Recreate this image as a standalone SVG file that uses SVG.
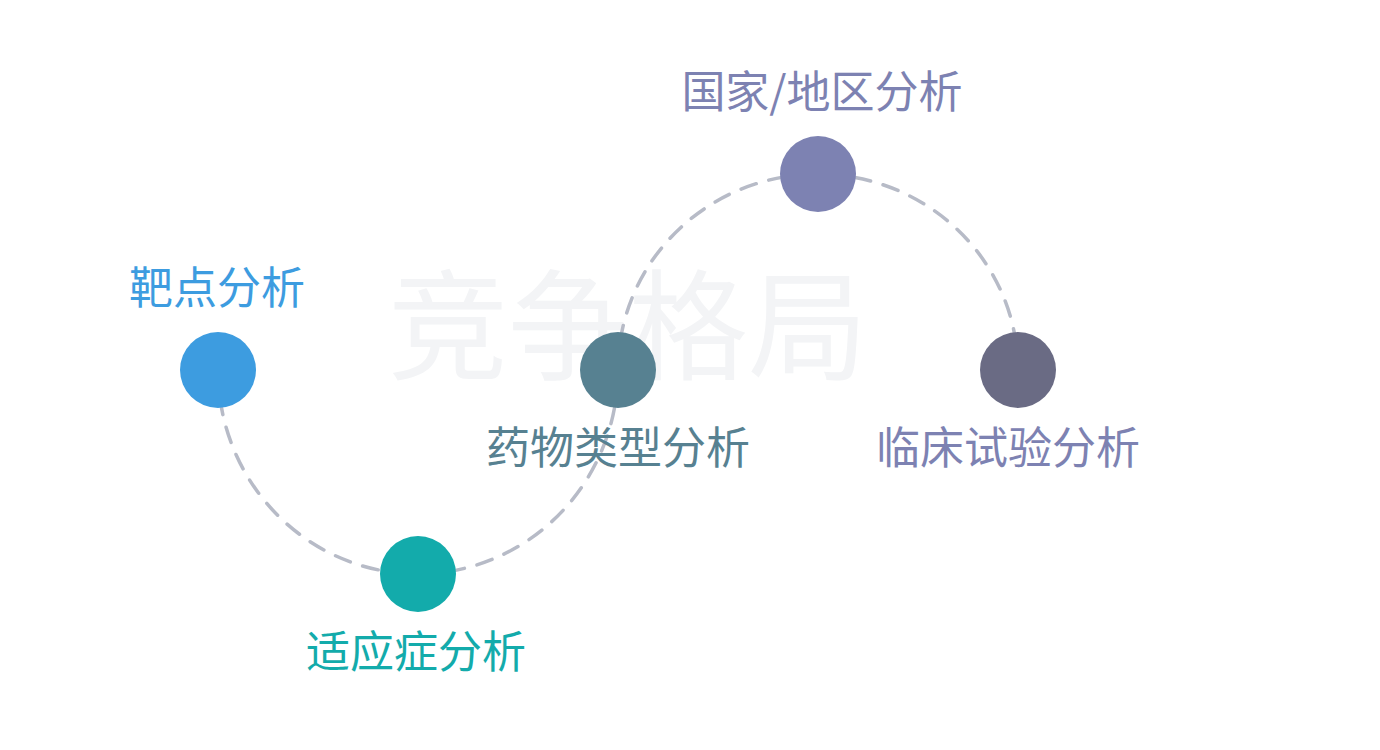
<svg xmlns="http://www.w3.org/2000/svg" width="1380" height="750" viewBox="0 0 1380 750">
<style>
text{font-family:"Noto Sans CJK SC","Noto Sans",sans-serif;text-anchor:middle}
.lbl{font-size:44px}
.wm{font-size:120px;fill:#f3f4f6}
.conn{fill:none;stroke:#b7bbc7;stroke-width:3.5;stroke-dasharray:16 13;stroke-linecap:round}
</style>
<rect width="1380" height="750" fill="#ffffff"/>
<text class="wm" x="628" y="371">竞争格局</text>
<g id="connectors">
<path class="conn" d="M218,370 A200,204 0 0 0 618,370"/>
<path class="conn" d="M618,370 A200,196 0 0 1 1018,370"/>
</g>
<g id="node-target">
<circle cx="218" cy="370" r="38" fill="#3d9ce0"/>
<text class="lbl" x="217" y="304" fill="#3d9ce0">靶点分析</text>
</g>
<g id="node-indication">
<circle cx="418" cy="574" r="38" fill="#13abab"/>
<text class="lbl" x="416" y="668" fill="#13abab">适应症分析</text>
</g>
<g id="node-drugtype">
<circle cx="618" cy="370" r="38" fill="#578191"/>
<text class="lbl" x="618" y="464" fill="#578191">药物类型分析</text>
</g>
<g id="node-region">
<circle cx="818" cy="174" r="38" fill="#7d82b2"/>
<text class="lbl" x="822" y="108" fill="#7d82b2">国家/地区分析</text>
</g>
<g id="node-clinical">
<circle cx="1018" cy="370" r="38" fill="#6a6b84"/>
<text class="lbl" x="1008" y="464" fill="#7d82b2">临床试验分析</text>
</g>
</svg>
